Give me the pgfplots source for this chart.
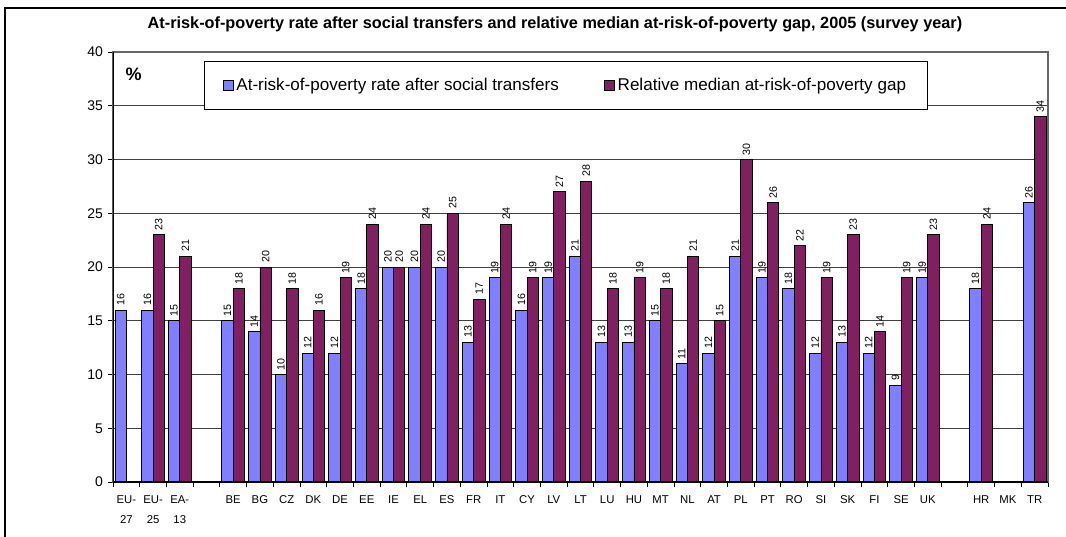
\documentclass[border=0pt]{standalone}
\usepackage{pgfplots}
\pgfplotsset{compat=1.18}
\usepackage{fontspec}
\setmainfont{Liberation Sans}
\definecolor{barblue}{RGB}{128,128,255}
\definecolor{barpurple}{RGB}{128,32,96}
\begin{document}
\begin{tikzpicture}
\begin{scope}[x=0.75pt,y=0.75pt]
\path[use as bounding box] (-113,-54) rectangle (953,482);
\draw[black,line width=0.8pt] (-108,-60) -- (-108,474) -- (960,474);
\node[font=\bfseries\fontsize{12.2}{14}\selectfont] at (442,458) {At-risk-of-poverty rate after social transfers and relative median at-risk-of-poverty gap, 2005 (survey year)};
\end{scope}
\begin{axis}[
  at={(0,0)}, anchor=south west,
  scale only axis, width=701.25pt, height=322.5pt,
  ybar=0pt, bar width=8.5pt,
  xmin=-0.5, xmax=34.5, ymin=0, ymax=40,
  ytick={0,5,...,40},
  xtick={0,...,34},
  xticklabels={{EU-\\27},{EU-\\25},{EA-\\13},{},BE,BG,CZ,DK,DE,EE,IE,EL,ES,FR,IT,CY,LV,LT,LU,HU,MT,NL,AT,PL,PT,RO,SI,SK,FI,SE,UK,{},HR,MK,TR},
  x tick label style={font=\fontsize{8.5}{14.5}\selectfont, align=center, anchor=north, yshift=-3pt},
  y tick label style={font=\fontsize{10.5}{12}\selectfont},
  /pgf/number format/assume math mode=true,
  minor xtick={-0.5,0.5,...,34.5},
  major x tick style={draw=none},
  minor tick length=4pt, major tick length=4pt,
  tick align=outside, tick pos=left,
  tick style={black, line width=0.6pt},
  ymajorgrids, grid style={black!75, line width=0.5pt},
  axis line style={draw=gray!80!black, line width=0.8pt},
  enlargelimits=false,
  legend columns=2,
  legend style={at={(0.0972,0.979)}, anchor=north west, draw=black, line width=0.6pt,
    font=\fontsize{12.8}{15}\selectfont, inner xsep=14pt, inner ysep=10.5pt,
    /tikz/column 2/.style={column sep=32pt}},
  legend image code/.code={\draw[#1,draw=black,line width=0.6pt] (0pt,-3.5pt) rectangle (7.5pt,4pt);},
  nodes near coords,
  every node near coord/.append style={font=\fontsize{8}{9}\selectfont, rotate=90, anchor=west, black, inner sep=3pt},
]
\addplot[fill=barblue, draw=black, line width=0.6pt] coordinates {
(0,16) (1,16) (2,15) (4,15) (5,14) (6,10) (7,12) (8,12) (9,18) (10,20) (11,20) (12,20)
(13,13) (14,19) (15,16) (16,19) (17,21) (18,13) (19,13) (20,15) (21,11) (22,12) (23,21)
(24,19) (25,18) (26,12) (27,13) (28,12) (29,9) (30,19) (32,18) (34,26)};
\addplot[fill=barpurple, draw=black, line width=0.6pt] coordinates {
(1,23) (2,21) (4,18) (5,20) (6,18) (7,16) (8,19) (9,24) (10,20) (11,24) (12,25)
(13,17) (14,24) (15,19) (16,27) (17,28) (18,18) (19,19) (20,18) (21,21) (22,15) (23,30)
(24,26) (25,22) (26,19) (27,23) (28,14) (29,19) (30,23) (32,24) (34,34)};
\legend{At-risk-of-poverty rate after social transfers, Relative median at-risk-of-poverty gap\hspace{8pt}}
\draw[black, line width=0.8pt] (rel axis cs:0,1) -- (rel axis cs:0,0) -- (rel axis cs:1,0);
\node[font=\bfseries\fontsize{13.5}{15}\selectfont] at (rel axis cs:0.022,0.947) {\%};
\end{axis}
\end{tikzpicture}
\end{document}
